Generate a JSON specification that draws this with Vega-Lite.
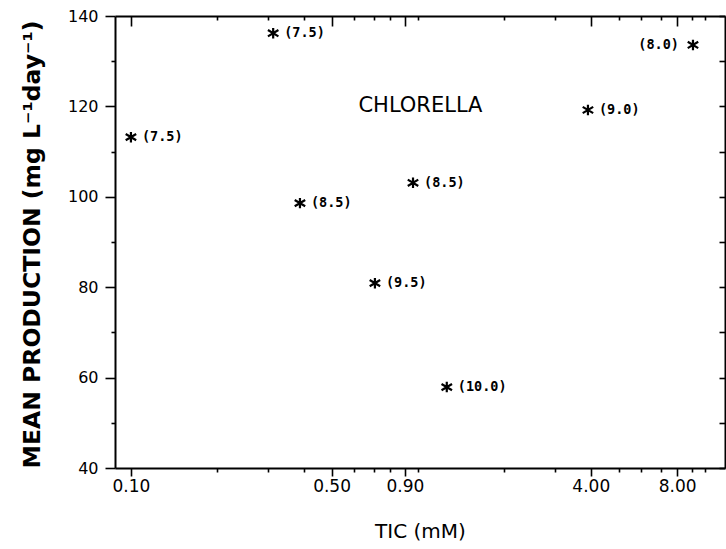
{
  "$schema": "https://vega.github.io/schema/vega-lite/v6.json",
  "autosize": "none",
  "width": 610,
  "height": 452,
  "padding": {"left": 115, "top": 16, "right": 1, "bottom": 81},
  "background": "white",
  "config": {
    "view": {"stroke": null},
    "axis": {
      "domainColor": "black", "domainWidth": 2, "tickColor": "black", "tickWidth": 1.6,
      "labelColor": "black", "titleColor": "black", "grid": false,
      "labelFont": "DejaVu Sans", "titleFont": "DejaVu Sans"
    }
  },
  "datasets": {
    "pts": [
      {"tic": 0.10, "prod": 113.2, "label": "(7.5)"},
      {"tic": 0.313, "prod": 136.2, "label": "(7.5)"},
      {"tic": 0.388, "prod": 98.6, "label": "(8.5)"},
      {"tic": 0.708, "prod": 80.9, "label": "(9.5)"},
      {"tic": 0.961, "prod": 103.1, "label": "(8.5)"},
      {"tic": 1.26, "prod": 57.9, "label": "(10.0)"},
      {"tic": 3.91, "prod": 119.2, "label": "(9.0)"},
      {"tic": 9.08, "prod": 133.6, "label": "(8.0)"}
    ],
    "note": [{"tic": 1.02, "prod": 120, "text": "CHLORELLA"}]
  },
  "resolve": {"axis": {"x": "independent", "y": "independent"}},
  "layer": [
    {
      "data": {"name": "pts"},
      "mark": {"type": "point", "shape": "M0,-1L0,1M-1,-0.6L1,0.6M-1,0.6L1,-0.6", "filled": false, "stroke": "black", "strokeWidth": 2.2, "size": 110, "opacity": 1},
      "encoding": {
        "x": {"field": "tic", "type": "quantitative",
          "scale": {"type": "log", "domain": [0.088, 11.74], "nice": false, "zero": false},
          "axis": {
            "orient": "bottom", "title": "TIC (mM)", "titleFontSize": 20, "titleFontWeight": "normal",
            "titleX": 305, "titleY": 63, "titleBaseline": "middle", "titleAlign": "center",
            "values": [0.1, 0.2, 0.3, 0.4, 0.5, 0.6, 0.7, 0.8, 0.9, 1, 2, 3, 4, 5, 6, 7, 8, 9, 10],
            "tickSize": {"condition": {"test": "indexof([0.1,0.5,0.9,4,8], datum.value) >= 0", "value": 8}, "value": 4},
            "labelExpr": "indexof([0.1,0.5,0.9,4,8], datum.value) >= 0 ? format(datum.value, '.2f') : ''",
            "labelFontSize": 17, "labelPadding": 2, "labelFlush": false, "labelOverlap": false
          }
        },
        "y": {"field": "prod", "type": "quantitative",
          "scale": {"domain": [40, 140], "nice": false, "zero": false},
          "axis": {
            "orient": "left", "title": "MEAN PRODUCTION (mg L⁻¹day⁻¹)", "titleFontSize": 23.5, "titleFontWeight": "bold",
            "titleX": -83, "titleY": 228, "titleAngle": -90, "titleAlign": "center", "titleBaseline": "middle",
            "values": [40, 50, 60, 70, 80, 90, 100, 110, 120, 130, 140],
            "tickSize": {"condition": {"test": "datum.value % 20 === 0", "value": 10}, "value": 4},
            "labelExpr": "datum.value % 20 === 0 ? datum.label : ''",
            "labelFontSize": 16, "labelPadding": 7, "labelFlush": false, "labelOverlap": false
          }
        }
      }
    },
    {
      "data": {"name": "pts"},
      "mark": {"type": "point", "opacity": 0},
      "encoding": {
        "x": {"field": "tic", "type": "quantitative",
          "axis": {
            "orient": "top", "title": null, "labels": false,
            "values": [0.1, 0.2, 0.3, 0.4, 0.5, 0.6, 0.7, 0.8, 0.9, 1, 2, 3, 4, 5, 6, 7, 8, 9, 10],
            "tickSize": {"condition": {"test": "indexof([0.1,0.5,0.9,4,8], datum.value) >= 0", "value": -10}, "value": -4}
          }
        },
        "y": {"field": "prod", "type": "quantitative",
          "axis": {
            "orient": "right", "title": null, "labels": false,
            "values": [40, 50, 60, 70, 80, 90, 100, 110, 120, 130, 140],
            "tickSize": -6
          }
        }
      }
    },
    {
      "data": {"name": "pts"},
      "transform": [{"filter": "datum.label !== '(8.0)'"}],
      "mark": {"type": "text", "align": "left", "baseline": "middle", "dx": 11, "font": "DejaVu Sans Mono", "fontWeight": "bold", "fontSize": 13.5, "color": "black"},
      "encoding": {
        "x": {"field": "tic", "type": "quantitative", "axis": null},
        "y": {"field": "prod", "type": "quantitative", "axis": null},
        "text": {"field": "label"}
      }
    },
    {
      "data": {"name": "pts"},
      "transform": [{"filter": "datum.label === '(8.0)'"}],
      "mark": {"type": "text", "align": "right", "baseline": "middle", "dx": -14, "font": "DejaVu Sans Mono", "fontWeight": "bold", "fontSize": 13.5, "color": "black"},
      "encoding": {
        "x": {"field": "tic", "type": "quantitative", "axis": null},
        "y": {"field": "prod", "type": "quantitative", "axis": null},
        "text": {"field": "label"}
      }
    },
    {
      "data": {"name": "note"},
      "mark": {"type": "text", "align": "center", "baseline": "middle", "font": "DejaVu Sans", "fontSize": 21, "color": "black"},
      "encoding": {
        "x": {"field": "tic", "type": "quantitative", "axis": null},
        "y": {"field": "prod", "type": "quantitative", "axis": null},
        "text": {"field": "text"}
      }
    }
  ]
}
